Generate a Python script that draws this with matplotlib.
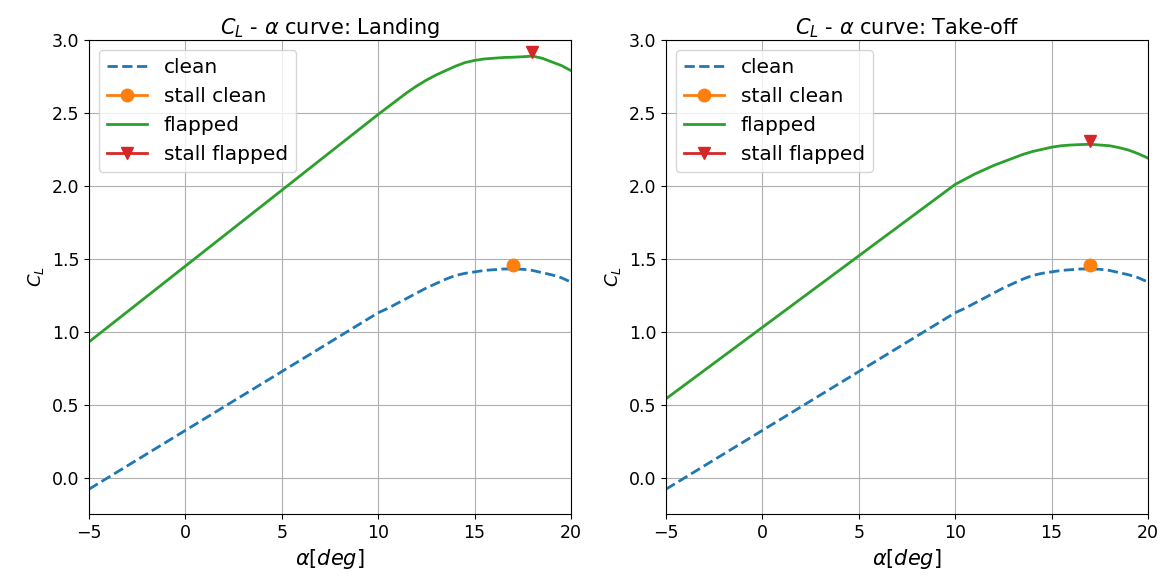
"""
Lift curves (C_L vs alpha) for the clean and flapped wing,
landing and take-off configurations.
"""

import matplotlib
matplotlib.use("Agg")
import matplotlib.pyplot as plt

# angle of attack [deg]
alpha = [-5, 10, 10.5, 11, 11.5, 12, 12.5, 13, 13.5, 14, 14.5, 15, 15.5,
         16, 16.5, 17, 17.5, 18, 18.5, 19, 19.5, 20]

# clean wing (same for both configurations)
cl_clean = [-0.08, 1.13, 1.16, 1.195, 1.23, 1.265, 1.30, 1.33, 1.36, 1.385,
            1.40, 1.41, 1.42, 1.425, 1.43, 1.43, 1.428, 1.42, 1.405, 1.39,
            1.37, 1.34]
stall_clean = (17, 1.46)

# flapped wing, landing
cl_land = [0.93, 2.49, 2.54, 2.59, 2.64, 2.685, 2.725, 2.76, 2.79, 2.82,
           2.845, 2.86, 2.87, 2.875, 2.88, 2.882, 2.885, 2.89, 2.875, 2.85,
           2.825, 2.79]
stall_land = (18, 2.92)

# flapped wing, take-off
cl_to = [0.54, 2.01, 2.045, 2.08, 2.11, 2.14, 2.165, 2.19, 2.215, 2.235,
         2.25, 2.265, 2.275, 2.28, 2.283, 2.285, 2.28, 2.275, 2.262, 2.245,
         2.22, 2.19]
stall_to = (17, 2.31)

cases = [("Landing", cl_land, stall_land), ("Take-off", cl_to, stall_to)]


def main():
    fig = plt.figure(figsize=(11.68, 5.77), dpi=100)
    ax1 = fig.add_axes([89 / 1168, 63 / 577, 482 / 1168, 474 / 577])
    ax2 = fig.add_axes([666 / 1168, 63 / 577, 482 / 1168, 474 / 577])

    for ax, (name, cl_flap, stall_flap) in zip([ax1, ax2], cases):
        ax.plot(alpha, cl_clean, "--", color="C0", lw=2, label="clean")
        ax.plot(stall_clean[0], stall_clean[1], "o-", color="C1", ms=9, lw=2,
                label="stall clean")
        ax.plot(alpha, cl_flap, "-", color="C2", lw=2, label="flapped")
        ax.plot(stall_flap[0], stall_flap[1], "v-", color="C3", ms=9, lw=2,
                label="stall flapped")
        ax.set_xlim(-5, 20)
        ax.set_ylim(-0.25, 3.0)
        ax.grid(True)
        ax.set_title(r"$C_L$ - $\alpha$ curve: " + name, fontsize=15, pad=4)
        ax.set_xlabel(r"$\alpha [deg]$", fontsize=15)
        ax.set_ylabel(r"$C_L$", fontsize=13)
        ax.tick_params(labelsize=12.5)
        ax.legend(loc="upper left", fontsize=14.5)

    fig.savefig("out.png")


if __name__ == '__main__':
    main()
